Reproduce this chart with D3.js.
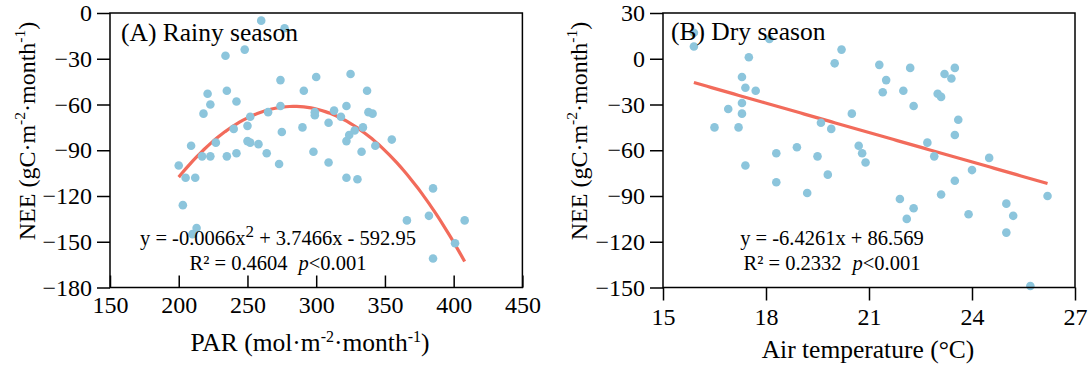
<!DOCTYPE html>
<html>
<head>
<meta charset="utf-8">
<script src="https://cdn.jsdelivr.net/npm/d3@7"></script>
<style>
  body { margin: 0; background: #fff; }
  text { font-family: "Liberation Serif", "Times New Roman", serif; fill: #000; }
</style>
</head>
<body>
<div id="chart"></div>
<script>
// (A) rainy season: PAR vs NEE
const rainyPAR = [260, 277, 234, 248, 274, 300, 325, 221, 235, 291, 337, 223, 242, 218, 274, 322,
  299, 299, 313, 338, 341, 252, 265, 318, 250, 240, 290, 309, 334, 328, 275, 324,
  209, 227, 250, 252, 258, 322, 343, 355, 200, 205, 212, 217, 223, 235, 242, 264,
  273, 298, 309, 322, 330, 333, 203, 213, 210, 366, 385, 382, 385, 408, 401]
const rainyNEE = [-5, -10, -28, -24, -44, -42, -40, -53, -51, -51, -51, -60, -58, -66, -61, -61,
  -65, -67, -64, -65, -66, -68, -65, -68, -74, -76, -75, -72, -75, -77, -78, -80,
  -87, -85, -84, -85, -86, -84, -87, -83, -100, -108, -108, -94, -94, -94, -92, -92,
  -99, -91, -98, -108, -109, -91, -126, -141, -145, -136, -115, -133, -161, -136, -151]

// (B) dry season: air temperature vs NEE
const dryTemp = [15.9, 15.9, 18.1, 17.5, 20.2, 20.0, 21.3, 22.2, 23.5, 23.2, 23.4, 17.3, 21.5, 17.4,
  17.7, 21.4, 22.0, 23.0, 23.1, 22.3, 17.3, 16.9, 17.3, 20.5, 23.6, 16.5, 17.2, 19.6,
  19.9, 23.5, 18.9, 20.7, 22.7, 17.4, 18.3, 18.3, 19.5, 19.8, 19.2, 20.8, 20.9, 22.9,
  24.5, 24.0, 23.5, 23.1, 21.9, 22.3, 22.1, 23.9, 25.0, 25.2, 25.0, 26.2, 25.7]
const dryNEE = [17, 8, 13, 1, 6, -3, -4, -6, -6, -10, -13, -12, -14, -19,
  -21, -22, -21, -23, -25, -31, -29, -33, -36, -36, -40, -45, -45, -42,
  -46, -50, -58, -57, -55, -70, -62, -81, -64, -76, -88, -62, -68, -64,
  -65, -73, -80, -89, -92, -98, -105, -102, -95, -103, -114, -90, -149]

const parTicks = [150, 200, 250, 300, 350, 400, 450]
const rainyTicks = [0, -30, -60, -90, -120, -150, -180]
const tempTicks = [15, 18, 21, 24, 27]
const dryTicks = [30, 0, -30, -60, -90, -120, -150]

// fitted curves from the figure
const rainyFit = [-0.0066, 3.7466, -592.95]   // a*x^2 + b*x + c
const rainyFitRange = [200, 408]
const dryFit = [-6.4261, 86.569]              // a*x + b
const dryFitRange = [15.9, 26.2]

const dotColor = '#8cc5dc'
const lineColor = '#f26b5b'
const serif = '"Liberation Serif", "Times New Roman", serif'

let svg = d3.select('#chart').append('svg')
  .attr('width', 1092).attr('height', 374)
svg.append('rect').attr('width', 1092).attr('height', 374).attr('fill', '#fff')

function panel(o) {
  let x = d3.scaleLinear().domain(o.xDomain).range(o.xRange)
  let y = d3.scaleLinear().domain(o.yDomain).range([13, 287.5])
  let g = svg.append('g')

  // fit line
  let fx = d3.range(o.fitRange[0], o.fitRange[1] + 1e-9, (o.fitRange[1] - o.fitRange[0]) / 80)
  g.append('path')
    .datum(fx)
    .attr('fill', 'none')
    .attr('stroke', lineColor)
    .attr('stroke-width', 3.2)
    .attr('d', d3.line().x(d => x(d)).y(d => y(o.fit(d))))

  g.selectAll('.dot')
    .data(o.xs)
    .enter()
    .append('circle')
    .attr('cx', d => x(d))
    .attr('cy', (d, i) => y(o.ys[i]))
    .attr('r', 4.3)
    .attr('fill', dotColor)

  // frame
  g.append('rect')
    .attr('x', o.xRange[0]).attr('y', 13)
    .attr('width', o.xRange[1] - o.xRange[0]).attr('height', 274.5)
    .attr('fill', 'none').attr('stroke', '#000').attr('stroke-width', 1.5)

  let ya = g.append('g')
    .attr('transform', 'translate(' + o.xRange[0] + ',0)')
    .call(d3.axisLeft(y).tickValues(o.yTicks).tickSize(13).tickSizeOuter(0).tickPadding(5))
  let xa = g.append('g')
    .attr('transform', 'translate(0,287.5)')
    .call(d3.axisBottom(x).tickValues(o.xTicks).tickSize(o.xTickSize).tickSizeOuter(0).tickPadding(o.xPad))
  ;[ya, xa].forEach(a => {
    a.attr('font-family', serif).attr('font-size', 24)
    a.select('.domain').remove()
    a.selectAll('line').attr('stroke', '#000').attr('stroke-width', 1.5)
    a.selectAll('text').attr('font-family', serif).style('font-size', '24px').style('font-family', serif).attr('fill', '#000')
  })

  g.append('text').attr('x', o.titleXY[0]).attr('y', o.titleXY[1])
    .attr('font-size', 25.5).text(o.title)

  // y title
  let yt = g.append('text')
    .attr('transform', 'translate(' + o.yTitleX + ',131) rotate(-90)')
    .attr('text-anchor', 'middle').attr('font-size', 24)
  yt.append('tspan').text('NEE (gC·m')
  yt.append('tspan').attr('font-size', 15.5).attr('dy', -10).text('-2')
  yt.append('tspan').attr('dy', 10).text('·month')
  yt.append('tspan').attr('font-size', 15.5).attr('dy', -10).text('-1')
  yt.append('tspan').attr('dy', 10).text(')')

  let xt = g.append('text')
    .attr('x', o.xTitleXY[0]).attr('y', o.xTitleXY[1])
    .attr('text-anchor', 'middle').attr('font-size', 25.5)
  o.xTitle(xt)

  let eq = g.append('text').attr('x', o.eqX).attr('y', 245)
    .attr('text-anchor', 'middle').attr('font-size', 20.5)
  o.eq(eq)
  let r2 = g.append('text').attr('x', o.eqX).attr('y', 270)
    .attr('text-anchor', 'middle').attr('font-size', 20.5)
  r2.append('tspan').text('R² = ' + o.r2)
  r2.append('tspan').attr('dx', 11).attr('font-style', 'italic').text('p')
  r2.append('tspan').text('<0.001')
}

panel({
  xs: rainyPAR, ys: rainyNEE,
  xDomain: [150, 450], xRange: [110, 522.4], yDomain: [0, -180],
  xTicks: parTicks, yTicks: rainyTicks, xTickSize: -12, xPad: 8,
  fit: v => rainyFit[0] * v * v + rainyFit[1] * v + rainyFit[2], fitRange: rainyFitRange,
  title: '(A) Rainy season', titleXY: [121, 41],
  yTitleX: 35,
  xTitleXY: [310, 351],
  xTitle: t => {
    t.append('tspan').text('PAR (mol·m')
    t.append('tspan').attr('font-size', 16).attr('dy', -9).text('-2')
    t.append('tspan').attr('dy', 9).text('·month')
    t.append('tspan').attr('font-size', 16).attr('dy', -9).text('-1')
    t.append('tspan').attr('dy', 9).text(')')
  },
  eqX: 278,
  eq: t => {
    t.append('tspan').text('y = -0.0066x')
    t.append('tspan').attr('font-size', 17).attr('dy', -8).text('2')
    t.append('tspan').attr('dy', 8).text(' + 3.7466x - 592.95')
  },
  r2: '0.4604'
})

panel({
  xs: dryTemp, ys: dryNEE,
  xDomain: [15, 27], xRange: [663, 1075], yDomain: [30, -150],
  xTicks: tempTicks, yTicks: dryTicks, xTickSize: 13, xPad: 7,
  fit: v => dryFit[0] * v + dryFit[1], fitRange: dryFitRange,
  title: '(B) Dry season', titleXY: [671, 40],
  yTitleX: 587,
  xTitleXY: [868, 358],
  xTitle: t => t.text('Air temperature (°C)'),
  eqX: 832,
  eq: t => t.text('y = -6.4261x + 86.569'),
  r2: '0.2332'
})
</script>
</body>
</html>
